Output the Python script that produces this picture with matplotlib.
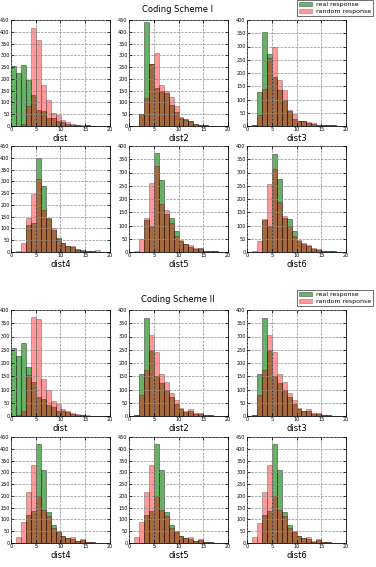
import numpy as np
from matplotlib import pyplot as plt
from matplotlib.patches import Patch

# histogram counts per unit bin [0,1), [1,2), ... [19,20)
bin_lefts = np.arange(20)

# Coding Scheme I
s1_dist_real = [255, 225, 260, 195, 130, 70, 65, 35, 35, 20, 15, 10, 5, 3, 2, 3, 0, 0, 0, 0]
s1_dist_rand = [0, 2, 10, 85, 415, 365, 175, 110, 55, 45, 25, 15, 8, 5, 3, 5, 2, 0, 0, 0]
s1_dist2_real = [0, 0, 50, 440, 265, 160, 150, 140, 90, 60, 35, 30, 20, 10, 5, 3, 2, 0, 0, 0]
s1_dist2_rand = [0, 0, 50, 120, 265, 310, 175, 150, 125, 85, 40, 25, 20, 10, 5, 3, 2, 2, 0, 0]
s1_dist3_real = [0, 5, 130, 355, 270, 185, 135, 100, 55, 25, 20, 18, 12, 8, 5, 5, 3, 2, 0, 0]
s1_dist3_rand = [0, 5, 40, 140, 255, 300, 175, 135, 60, 45, 20, 20, 15, 10, 5, 5, 3, 3, 0, 0]
s1_dist4_real = [0, 0, 0, 115, 125, 400, 280, 145, 95, 60, 40, 25, 20, 12, 10, 3, 3, 0, 0, 0]
s1_dist4_rand = [0, 3, 38, 145, 245, 310, 180, 140, 100, 55, 38, 25, 25, 10, 5, 3, 3, 8, 0, 0]
s1_dist5_real = [0, 0, 0, 120, 100, 375, 270, 145, 130, 80, 40, 30, 20, 12, 15, 3, 3, 3, 0, 0]
s1_dist5_rand = [0, 3, 50, 130, 260, 325, 180, 160, 110, 60, 45, 30, 25, 15, 10, 3, 3, 3, 0, 0]
s1_dist6_real = [0, 0, 0, 120, 100, 370, 275, 130, 125, 80, 40, 30, 22, 12, 8, 3, 3, 3, 0, 0]
s1_dist6_rand = [0, 5, 40, 125, 255, 315, 190, 135, 100, 60, 45, 35, 25, 15, 10, 3, 3, 3, 0, 0]

# Coding Scheme II
s2_dist_real = [255, 225, 275, 185, 130, 70, 65, 40, 35, 20, 18, 15, 8, 5, 3, 0, 0, 0, 0, 0]
s2_dist_rand = [0, 2, 20, 155, 375, 365, 140, 100, 55, 45, 25, 20, 10, 8, 5, 3, 0, 0, 0, 0]
s2_dist2_real = [0, 5, 160, 370, 250, 150, 125, 100, 70, 45, 25, 15, 20, 8, 8, 3, 3, 0, 0, 0]
s2_dist2_rand = [0, 3, 80, 175, 305, 240, 160, 130, 85, 60, 30, 20, 25, 10, 10, 3, 3, 0, 0, 0]
s2_dist3_real = [0, 5, 160, 370, 250, 150, 125, 100, 70, 45, 25, 18, 20, 8, 8, 3, 2, 0, 0, 0]
s2_dist3_rand = [0, 3, 80, 175, 305, 240, 160, 130, 85, 60, 30, 20, 25, 10, 10, 5, 3, 0, 0, 0]
s2_dist4_real = [0, 0, 0, 120, 135, 420, 310, 130, 75, 45, 30, 20, 18, 8, 12, 3, 5, 0, 0, 0]
s2_dist4_rand = [0, 25, 90, 215, 330, 200, 140, 115, 65, 50, 30, 20, 25, 10, 15, 3, 5, 0, 0, 0]
s2_dist5_real = [0, 0, 0, 120, 135, 420, 310, 130, 75, 45, 30, 20, 18, 8, 12, 3, 5, 0, 0, 0]
s2_dist5_rand = [0, 25, 90, 215, 330, 200, 140, 115, 65, 50, 30, 20, 25, 10, 15, 3, 5, 0, 0, 0]
s2_dist6_real = [0, 0, 0, 120, 135, 420, 310, 130, 75, 45, 30, 20, 18, 5, 12, 3, 5, 0, 0, 0]
s2_dist6_rand = [0, 25, 85, 215, 330, 200, 140, 115, 65, 50, 30, 20, 25, 8, 15, 3, 5, 0, 0, 0]

labels = ["dist", "dist2", "dist3", "dist4", "dist5", "dist6"]
scheme1 = [(s1_dist_real, s1_dist_rand), (s1_dist2_real, s1_dist2_rand), (s1_dist3_real, s1_dist3_rand),
           (s1_dist4_real, s1_dist4_rand), (s1_dist5_real, s1_dist5_rand), (s1_dist6_real, s1_dist6_rand)]
scheme2 = [(s2_dist_real, s2_dist_rand), (s2_dist2_real, s2_dist2_rand), (s2_dist3_real, s2_dist3_rand),
           (s2_dist4_real, s2_dist4_rand), (s2_dist5_real, s2_dist5_rand), (s2_dist6_real, s2_dist6_rand)]
ymax1 = [450, 450, 400, 450, 400, 400]
ymax2 = [400, 400, 400, 450, 450, 450]

W, H = 376, 567
fig = plt.figure(figsize=(W / 100, H / 100), dpi=100)
fig.patch.set_facecolor('white')

col_left = [11, 129, 247]
ax_w, ax_h = 99, 106
row_tops = [[20, 146], [310, 437]]
title_y = [10, 300]
green = (0.0, 0.5, 0.0)
g_alpha, r_alpha = 0.6, 0.4


def draw_hist(ax, real, rand, ymax, label):
    ax.bar(bin_lefts, real, width=1, align='edge', color=green, alpha=g_alpha,
           edgecolor='black', linewidth=0.45)
    ax.bar(bin_lefts, rand, width=1, align='edge', color='red', alpha=r_alpha,
           edgecolor='black', linewidth=0.45)
    ax.set_xlim(0, 20)
    ax.set_ylim(0, ymax)
    ax.set_xticks([0, 5, 10, 15, 20])
    ax.set_yticks(np.arange(0, ymax + 1, 50))
    ax.grid(True, color='0.55', linestyle='--', linewidth=0.5)
    ax.set_axisbelow(False)
    ax.tick_params(direction='in', top=True, right=True, labelsize=3.5, length=2, width=0.5, pad=1)
    for sp in ax.spines.values():
        sp.set_linewidth(0.6)
    ax.set_xlabel(label, fontsize=6, labelpad=1)


for s, (scheme, ymaxes, name) in enumerate([(scheme1, ymax1, "Coding Scheme I"),
                                            (scheme2, ymax2, "Coding Scheme II")]):
    for i, (real, rand) in enumerate(scheme):
        r, c = divmod(i, 3)
        top = row_tops[s][r]
        ax = fig.add_axes([col_left[c] / W, 1 - (top + ax_h) / H, ax_w / W, ax_h / H])
        draw_hist(ax, real, rand, ymaxes[i], labels[i])
    fig.text(178 / W, 1 - title_y[s] / H, name, ha='center', va='center', fontsize=6)
    handles = [Patch(facecolor=green, alpha=g_alpha, edgecolor='black', linewidth=0.4),
               Patch(facecolor='red', alpha=r_alpha, edgecolor='black', linewidth=0.4)]
    leg = fig.legend(handles, ["real response", "random response"], loc='upper right',
                     bbox_to_anchor=(373 / W, 1 - (title_y[s] - 10) / H), fontsize=4.5,
                     frameon=True, fancybox=False, borderpad=0.3, labelspacing=0.2,
                     handlelength=2.2, handletextpad=0.6, borderaxespad=0)
    leg.get_frame().set_edgecolor('black')
    leg.get_frame().set_linewidth(0.5)

fig.savefig("out.png", dpi=100, facecolor='white')
